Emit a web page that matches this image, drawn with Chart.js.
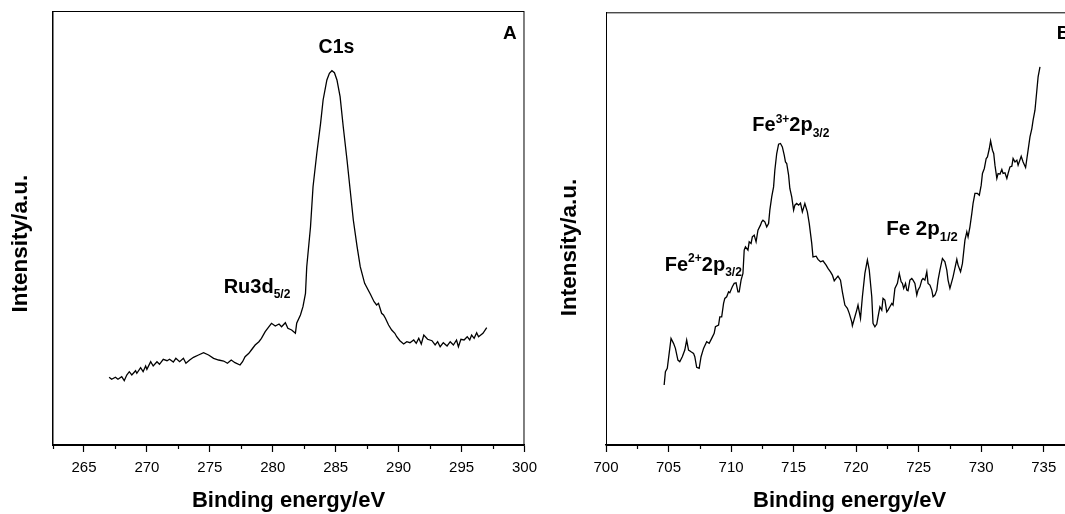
<!DOCTYPE html>
<html>
<head>
<meta charset="utf-8">
<script src="https://cdn.jsdelivr.net/npm/chart.js@4.4.0/dist/chart.umd.min.js"></script>
<style>
  html, body { margin: 0; padding: 0; background: #fff; overflow: hidden; width: 1065px; height: 514px; }
  #wrapA { position: absolute; left: 0; top: 0; }
  #wrapB { position: absolute; left: 540px; top: 0; }
</style>
</head>
<body>
<div id="wrapA"><canvas id="chartA" width="544" height="521"></canvas></div>
<div id="wrapB"><canvas id="chartB" width="560" height="521"></canvas></div>
<script>
// Panel A: C1s / Ru3d region (binding energy in eV, intensity in a.u.)
const energyA = [267.0, 267.2, 267.5, 267.7, 268.0, 268.2, 268.4, 268.6, 268.8, 269.1, 269.2, 269.5, 269.7, 269.9,
  270.0, 270.3, 270.5, 270.8, 271.0, 271.3, 271.6, 271.8, 272.1, 272.3, 272.6, 272.9, 273.1, 273.4, 273.7, 274.1,
  274.5, 274.9, 275.3, 275.7, 276.1, 276.4, 276.7, 277.0, 277.4, 277.6, 277.8, 278.1, 278.3, 278.6, 278.9, 279.1,
  279.4, 279.7, 279.9, 280.2, 280.5, 280.7, 281.0, 281.2, 281.5, 281.8, 281.9, 282.2, 282.4, 282.6, 282.7, 283.0,
  283.2, 283.5, 283.8, 284.0, 284.3, 284.5, 284.7, 284.9, 285.1, 285.35, 285.6, 285.9, 286.15, 286.4, 286.7,
  286.95, 287.3, 287.75, 288.05, 288.25, 288.4, 288.65, 288.8, 288.95, 289.2, 289.45, 289.7, 289.85, 290.1, 290.4,
  290.65, 290.9, 291.2, 291.4, 291.6, 291.8, 292.0, 292.3, 292.65, 292.9, 293.1, 293.3, 293.55, 293.85, 294.1,
  294.35, 294.6, 294.75, 294.95, 295.2, 295.45, 295.65, 295.8, 296.0, 296.2, 296.35, 296.7, 297.0];
const intensityA = [67.7, 65.7, 67.7, 65.7, 68.3, 64.3, 70, 73.3, 70, 74.3, 71.7, 77.3, 73.3, 79,
  75.7, 83.3, 79, 83.3, 80.7, 85.7, 84.3, 85.7, 83, 86.7, 83.3, 86.7, 81.7, 85, 87.7, 90,
  92.3, 90, 86.7, 85, 84, 81.7, 85, 82.3, 80, 83.3, 88.3, 91.7, 95, 100, 103.3, 106.7,
  113.3, 118.3, 121.7, 119, 121, 118.3, 122.3, 116.7, 115, 111.7, 121.7, 130, 138.3, 151.7, 178.3, 218.3,
  258.3, 291.7, 321.7, 345, 365, 371.7, 374.3, 372.3, 365, 348.3, 318.3, 285, 255, 225, 198.3,
  178.3, 161.7, 151, 143.3, 140, 141.7, 131.7, 130, 126.7, 120, 115, 111.7, 108.3, 104.3, 101,
  103.3, 102.3, 105, 101.7, 106.7, 101, 110, 105.7, 104.3, 100, 103.3, 98.3, 102.3, 99, 103.3,
  100, 105, 98.3, 105.7, 105, 108.3, 105, 110, 106.7, 112.3, 108.3, 111.7, 117.3];

// Panel B: Fe 2p region
const energyB = [704.65, 704.75, 704.9, 705.05, 705.2, 705.4, 705.55, 705.75, 705.9, 706.1, 706.3, 706.45, 706.6,
  706.8, 707.0, 707.1, 707.25, 707.45, 707.6, 707.8, 708.05, 708.25, 708.45, 708.65, 708.75, 709.0, 709.1, 709.25,
  709.4, 709.5, 709.65, 709.8, 709.9, 710.1, 710.25, 710.4, 710.55, 710.65, 710.8, 710.95, 711.05, 711.15, 711.35,
  711.45, 711.6, 711.7, 711.85, 712.0, 712.15, 712.35, 712.45, 712.55, 712.7, 712.85, 713.0, 713.1, 713.25, 713.4,
  713.5, 713.65, 713.8, 713.95, 714.1, 714.25, 714.35, 714.45, 714.6, 714.7, 714.85, 715.0, 715.1, 715.25, 715.4,
  715.55, 715.7, 715.9, 716.1, 716.25, 716.45, 716.55, 716.8, 716.95, 717.15, 717.35, 717.6, 717.75, 717.95, 718.1,
  718.25, 718.4, 718.55, 718.75, 718.9, 719.1, 719.3, 719.45, 719.65, 719.7, 719.9, 720.05, 720.15, 720.35, 720.5,
  720.7, 720.9, 721.05, 721.25, 721.35, 721.5, 721.65, 721.75, 721.9, 722.05, 722.15, 722.3, 722.45, 722.55, 722.7,
  722.85, 722.95, 723.1, 723.3, 723.45, 723.6, 723.7, 723.8, 723.95, 724.05, 724.15, 724.3, 724.45, 724.55, 724.7,
  724.85, 724.95, 725.1, 725.25, 725.35, 725.5, 725.65, 725.75, 725.9, 726.05, 726.15, 726.3, 726.45, 726.55, 726.7,
  726.9, 727.1, 727.25, 727.35, 727.5, 727.75, 728.05, 728.15, 728.35, 728.5, 728.7, 728.85, 728.95, 729.1, 729.25,
  729.35, 729.5, 729.7, 729.85, 730.0, 730.1, 730.25, 730.4, 730.5, 730.65, 730.75, 730.9, 731.0, 731.1, 731.25,
  731.35, 731.5, 731.65, 731.75, 731.9, 732.05, 732.15, 732.3, 732.45, 732.55, 732.7, 732.85, 732.95, 733.2, 733.35,
  733.55, 733.75, 733.9, 734.05, 734.15, 734.3, 734.45, 734.55, 734.7];
const intensityB = [60, 73.3, 76.7, 91.7, 106.7, 101.7, 96.7, 85, 83.3, 88.3, 95, 105, 95,
  93.3, 91.7, 88.3, 77.7, 76.7, 88.3, 96.7, 103.3, 101.7, 106.7, 111.7, 118.3, 120, 128.3, 128.3,
  141.7, 146.7, 148.3, 153.3, 152.3, 158.3, 161.7, 162.3, 153.3, 153.3, 165, 171.7, 195, 198.3, 195,
  203.3, 201.7, 208.3, 210, 203.3, 215, 220, 223.3, 225, 223.3, 218.3, 221.7, 235, 248.3, 258.3,
  275, 291.7, 301, 301.7, 298.3, 290, 283.3, 281.7, 270, 256.7, 248.3, 235, 240, 241.7, 240,
  242, 233.3, 241.7, 233.3, 221.7, 201.7, 188.3, 189, 185.7, 183.3, 184.3, 180, 176.7, 173.3, 170,
  164.3, 166.7, 169, 165, 153.3, 140, 136.7, 131.7, 123.3, 119.3, 128.3, 135, 140, 126.7, 148.3,
  171.7, 185, 175, 148.3, 121.7, 118.3, 121, 128.3, 138.3, 135, 146.7, 145, 133.3, 135, 138.3,
  141.7, 140, 156.7, 161.7, 171.7, 163.3, 161.7, 156.7, 161.7, 155, 154.3, 165, 166.7, 165, 161.7,
  150, 155, 158.3, 165, 166.7, 165, 173.3, 161.7, 160, 155, 148.3, 150, 155, 165, 175,
  186.7, 183.3, 175, 165, 156.7, 168.3, 185.7, 180, 173.3, 181.7, 205, 213.3, 208.3, 218.3, 231.7,
  241.7, 251.7, 251.7, 250, 260, 271.7, 276.7, 286.7, 288.3, 296.7, 304.3, 295, 291.7, 280, 266.7,
  271.7, 271, 275.7, 271.7, 272.3, 266.7, 271.7, 278.3, 279, 286.7, 283.3, 285, 280, 289, 283.3,
  277.7, 295, 308.3, 316.7, 325, 335, 355, 368.3, 378.3];

// axis ranges and tick steps
const rangeA = [262.5, 300];
const rangeB = [700, 737.5];
const majorStep = 5;
const minorStep = 2.5;

const FONT = '"Liberation Sans", Arial, Helvetica, sans-serif';
const NB = '\u00A0';

// box around the plot, short minor ticks, peak labels with sub/superscripts
const framePlugin = {
  id: 'frame',
  afterDraw(chart, args, opts) {
    const { ctx, chartArea: a, scales: { x, y } } = chart;
    ctx.save();
    ctx.strokeStyle = '#000';
    ctx.lineWidth = 1;
    ctx.strokeRect(a.left + 0.5, a.top + 0.5, a.right - a.left - 1, a.bottom - a.top);
    // minor ticks
    ctx.lineWidth = 1.2;
    x.ticks.forEach(t => {
      if (t.value % majorStep !== 0) {
        const px = Math.round(x.getPixelForValue(t.value)) + 0.5;
        ctx.beginPath();
        ctx.moveTo(px, a.bottom);
        ctx.lineTo(px, a.bottom + 4);
        ctx.stroke();
      }
    });
    // labels
    ctx.fillStyle = '#000';
    ctx.textBaseline = 'alphabetic';
    ctx.textAlign = 'left';
    (opts.labels || []).forEach(l => {
      let px = x.getPixelForValue(l.x);
      const py = y.getPixelForValue(l.y);
      l.parts.forEach(([txt, kind]) => {
        const size = kind === 'n' ? l.size : Math.round(l.size * 0.62);
        const dy = kind === 'sub' ? l.size * 0.28 : kind === 'sup' ? -l.size * 0.42 : 0;
        ctx.font = 'bold ' + size + 'px ' + FONT;
        ctx.fillText(txt, px, py + dy);
        px += ctx.measureText(txt).width;
      });
    });
    ctx.restore();
  }
};

function makeChart(id, energy, intensity, range, yMax, pad, yTitlePad, xTitle, yTitle, labels) {
  const points = energy.map((e, i) => ({ x: e, y: intensity[i] }));
  return new Chart(document.getElementById(id), {
    type: 'line',
    data: {
      datasets: [{
        data: points,
        borderColor: '#000',
        borderWidth: 1.3,
        pointRadius: 0,
        tension: 0,
        fill: false
      }]
    },
    options: {
      responsive: false,
      animation: false,
      events: [],
      layout: { padding: pad },
      plugins: {
        legend: { display: false },
        tooltip: { enabled: false },
        frame: { labels: labels }
      },
      scales: {
        x: {
          type: 'linear',
          min: range[0],
          max: range[1],
          border: { display: true, color: '#000', width: 1.6 },
          grid: {
            display: true,
            drawOnChartArea: false,
            drawTicks: true,
            tickLength: 7,
            tickWidth: 1.2,
            tickColor: c => (c.tick && c.tick.value % majorStep === 0) ? '#000' : 'rgba(0,0,0,0)'
          },
          ticks: {
            stepSize: minorStep,
            autoSkip: false,
            maxRotation: 0,
            padding: 7,
            color: '#000',
            font: { family: FONT, size: 15 },
            callback: v => (v % majorStep === 0 ? String(v) : '')
          },
          title: {
            display: true,
            text: xTitle,
            color: '#000',
            font: { family: FONT, size: 22, weight: 'bold', lineHeight: 1.2 },
            padding: { top: 3.8, bottom: 6.8 }
          }
        },
        y: {
          min: 0,
          max: yMax,
          border: { display: true, color: '#000', width: 1 },
          grid: { display: false, drawTicks: false },
          ticks: { display: false },
          title: {
            display: true,
            text: yTitle,
            color: '#000',
            font: { family: FONT, size: 22.5, weight: 'bold', lineHeight: 1.2 },
            padding: yTitlePad
          }
        }
      }
    },
    plugins: [framePlugin]
  });
}

const labelsA = [
  { x: 298.3, y: 406, size: 19, parts: [['A', 'n']] },
  { x: 283.64, y: 391.7, size: 19.5, parts: [['C1s', 'n']] },
  { x: 276.1, y: 152.3, size: 20, parts: [['Ru3d', 'n'], ['5/2', 'sub']] }
];
const labelsB = [
  { x: 736.05, y: 406, size: 19, parts: [['B', 'n']] },
  { x: 711.7, y: 314, size: 20, parts: [['Fe', 'n'], ['3+', 'sup'], ['2p', 'n'], ['3/2', 'sub']] },
  { x: 704.7, y: 174.3, size: 20, parts: [['Fe', 'n'], ['2+', 'sup'], ['2p', 'n'], ['3/2', 'sub']] },
  { x: 722.4, y: 210, size: 20.5, parts: [['Fe 2p', 'n'], ['1/2', 'sub']] }
];

makeChart('chartA', energyA, intensityA, rangeA, 434,
  { left: 7, top: 11, right: 0, bottom: 0 }, { top: 0, bottom: 18.5 },
  'Binding energy/eV', 'Intensity/a.u.' + NB.repeat(5), labelsA);
makeChart('chartB', energyB, intensityB, rangeB, 433,
  { left: 16.5, top: 12.3, right: 25, bottom: 0 }, { top: 0, bottom: 22.5 },
  NB.repeat(3) + 'Binding energy/eV', 'Intensity/a.u.' + NB.repeat(6), labelsB);
</script>
</body>
</html>
